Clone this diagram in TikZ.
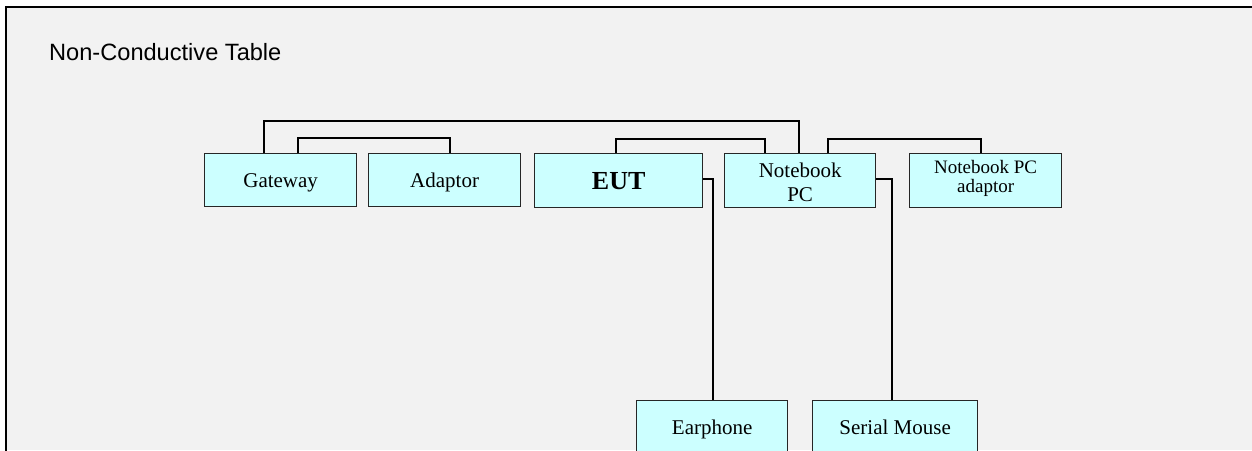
\documentclass[tikz,border=0pt]{standalone}
\usepackage{fontspec}
\setmainfont{Liberation Serif}
\newfontfamily\arialf{Liberation Sans}
\usetikzlibrary{calc}
\definecolor{bg}{HTML}{F2F2F2}
\definecolor{boxfill}{HTML}{CCFFFF}
\definecolor{boxline}{HTML}{262626}
\begin{document}
\begin{tikzpicture}[x=1pt,y=-1pt,
  box/.style={draw=boxline, fill=boxfill, line width=1.3pt, rectangle, anchor=north west,
    inner sep=0pt, align=center, font=\fontsize{21}{24}\selectfont},
  conn/.style={draw=black, line width=1.8pt}]
\useasboundingbox (0,0) rectangle (1252,450);
\fill[bg] (6,7) rectangle (1252,450);
\draw[line width=2pt, black] (6,451) -- (6,7) -- (1253,7);
\node[anchor=base west, inner sep=0pt, font=\arialf\fontsize{23.6}{28}\selectfont] (title) at (49,60) {Non-Conductive Table};

\node[box, minimum width=152, minimum height=53, text depth=0pt] (gw) at (204,153) {Gateway};
\node[box, minimum width=152, minimum height=53, text depth=0pt] (ad) at (368,153) {Adaptor};
\node[box, minimum width=168, minimum height=54, font=\bfseries\fontsize{26}{30}\selectfont] (eut) at (534,153) {EUT};
\node[box, minimum width=151, minimum height=54] (nb) at (724,153) {\rule{0pt}{18.5pt}Notebook\\PC};
\node[box, minimum width=152, minimum height=54, font=\fontsize{19}{19.5}\selectfont] (npa) at (909,153) {Notebook PC\\adaptor\rule[-8pt]{0pt}{1pt}};
\node[box, minimum width=151, minimum height=58] (ear) at (636,400) {Earphone\rule[-4pt]{0pt}{1pt}};
\node[box, minimum width=165, minimum height=58] (sm) at (812,400) {Serial Mouse\rule[-4pt]{0pt}{1pt}};

\draw[conn] ($(gw.north west)+(60,0)$) -- ++(0,-32) -| ($(nb.north west)+(75,0)$);
\draw[conn] ($(gw.north west)+(94,0)$) -- ++(0,-15) -| ($(ad.north west)+(82,0)$);
\draw[conn] ($(eut.north west)+(82,0)$) -- ++(0,-14) -| ($(nb.north west)+(41,0)$);
\draw[conn] ($(nb.north west)+(104,0)$) -- ++(0,-14) -| ($(npa.north west)+(72,0)$);
\draw[conn] ($(eut.east)+(0,-2)$) -| ($(ear.north west)+(77,0)$);
\draw[conn] ($(nb.east)+(0,-2)$) -| ($(sm.north west)+(80,0)$);
\end{tikzpicture}
\end{document}
